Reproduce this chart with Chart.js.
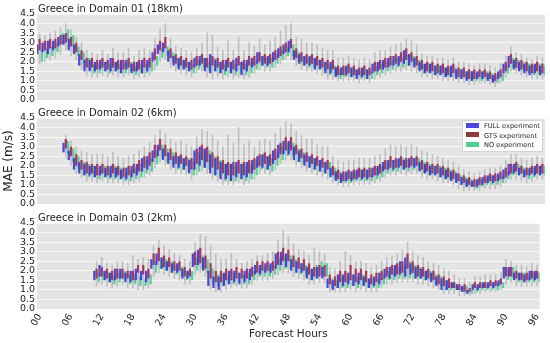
<!DOCTYPE html>
<html>
<head>
<meta charset="utf-8">
<script src="https://cdn.jsdelivr.net/npm/chart.js@4.4.1/dist/chart.umd.min.js"></script>
<style>
html, body { margin: 0; padding: 0; background: #fff; }
#wrap { position: relative; width: 550px; height: 343px; overflow: hidden; font-family: "DejaVu Sans", sans-serif; }
.panel { position: absolute; left: 0; width: 550px; }
#legend { position: absolute; left: 462px; top: 120px; width: 81px; height: 32px; background: rgba(255,255,255,0.95);
  border: 1px solid #d4d4d4; box-sizing: border-box; font-size: 6.6px; color: #222; padding: 1px 0 0 3px; }
#legend div { height: 9.5px; line-height: 9.5px; white-space: nowrap; }
#legend span { display: inline-block; width: 13px; height: 5px; margin-right: 5px; vertical-align: middle; position: relative; top: -1px; }
</style>
</head>
<body>
<div id="wrap">
  <div class="panel" style="top:0;height:108px"><canvas id="c1" width="550" height="108"></canvas></div>
  <div class="panel" style="top:104px;height:108px"><canvas id="c2" width="550" height="108"></canvas></div>
  <div class="panel" style="top:209px;height:134px"><canvas id="c3" width="550" height="134"></canvas></div>
  <div id="legend">
    <div><span style="background:#4848e0"></span>FULL experiment</div>
    <div><span style="background:#8a3c3c"></span>GTS experiment</div>
    <div><span style="background:#4fd08f"></span>NO experiment</div>
  </div>
</div>
<script>
const n = null;

// forecast hours 00..96
const HOURS = [
  0, 1, 2, 3, 4, 5, 6, 7, 8, 9, 10, 11,
  12, 13, 14, 15, 16, 17, 18, 19, 20, 21, 22, 23,
  24, 25, 26, 27, 28, 29, 30, 31, 32, 33, 34, 35,
  36, 37, 38, 39, 40, 41, 42, 43, 44, 45, 46, 47,
  48, 49, 50, 51, 52, 53, 54, 55, 56, 57, 58, 59,
  60, 61, 62, 63, 64, 65, 66, 67, 68, 69, 70, 71,
  72, 73, 74, 75, 76, 77, 78, 79, 80, 81, 82, 83,
  84, 85, 86, 87, 88, 89, 90, 91, 92, 93, 94, 95,
  96
];
const TICK_LABELS = ['00', '06', '12', '18', '24', '30', '36', '42', '48', '54', '60', '66', '72', '78', '84', '90', '96'];
const Y_TICKS = [0, 0.5, 1, 1.5, 2, 2.5, 3, 3.5, 4, 4.5];

const PANEL_TITLES = ['Greece in Domain 01 (18km)', 'Greece in Domain 02 (6km)', 'Greece in Domain 03 (2km)'];
const SERIES = ['FULL experiment', 'GTS experiment', 'NO experiment'];

// ---- Domain 01 (18km) : box bottoms / tops per hour
const d1FullLo = [
  2.4, 2.5, 2.4, 2.6, 2.8, 2.9, 2.6, 2.4, 1.8, 1.5, 1.5, 1.5,
  1.6, 1.5, 1.5, 1.5, 1.4, 1.6, 1.4, 1.5, 1.4, 1.5, 2.0, 2.4,
  2.5, 2.0, 1.8, 1.6, 1.6, 1.5, 1.7, 1.8, 1.5, 1.4, 1.5, 1.4,
  1.5, 1.4, 1.5, 1.3, 1.5, 1.7, 1.9, 1.8, 1.8, 2.0, 2.2, 2.4,
  2.5, 2.1, 1.9, 1.8, 1.8, 1.6, 1.6, 1.4, 1.4, 1.2, 1.3, 1.3,
  1.2, 1.1, 1.2, 1.1, 1.4, 1.5, 1.6, 1.7, 1.8, 1.8, 1.9, 1.8,
  1.7, 1.5, 1.4, 1.4, 1.3, 1.3, 1.2, 1.2, 1.1, 1.1, 1.0, 1.0,
  1.1, 1.1, 1.0, 0.9, 1.1, 1.4, 1.7, 1.6, 1.5, 1.4, 1.3, 1.4,
  1.3
];
const d1FullHi = [
  2.9, 3.0, 3.1, 3.1, 3.3, 3.4, 3.2, 2.9, 2.4, 2.1, 2.1, 2.0,
  2.1, 2.0, 2.2, 2.0, 2.1, 2.1, 1.9, 2.0, 2.1, 2.1, 2.5, 2.9,
  3.0, 2.6, 2.3, 2.2, 2.1, 2.0, 2.2, 2.3, 2.2, 2.4, 2.1, 2.0,
  2.1, 2.0, 2.2, 2.0, 2.1, 2.2, 2.5, 2.3, 2.3, 2.5, 2.7, 2.9,
  3.1, 2.6, 2.4, 2.3, 2.3, 2.2, 2.1, 2.0, 2.0, 1.7, 1.7, 1.8,
  1.7, 1.6, 1.7, 1.6, 1.9, 2.0, 2.1, 2.2, 2.3, 2.3, 2.6, 2.4,
  2.2, 2.0, 1.9, 1.9, 1.8, 1.8, 1.7, 1.8, 1.6, 1.6, 1.5, 1.5,
  1.5, 1.5, 1.4, 1.3, 1.5, 1.9, 2.3, 2.1, 2.0, 1.9, 1.8, 1.9,
  1.8
];
const d1GtsLo = [
  2.6, 2.6, 2.7, 2.7, 2.9, 3.0, 2.8, 2.5, 2.1, 1.7, 1.7, 1.6,
  1.7, 1.6, 1.7, 1.6, 1.6, 1.7, 1.5, 1.6, 1.7, 1.7, 2.1, 2.6,
  2.7, 2.2, 1.9, 1.8, 1.7, 1.6, 1.8, 1.9, 1.7, 1.8, 1.7, 1.6,
  1.7, 1.6, 1.8, 1.6, 1.8, 1.8, 2.0, 1.9, 1.9, 2.1, 2.3, 2.5,
  2.7, 2.2, 2.0, 1.9, 1.9, 1.8, 1.7, 1.6, 1.6, 1.3, 1.3, 1.4,
  1.3, 1.3, 1.3, 1.3, 1.5, 1.6, 1.7, 1.8, 1.9, 2.0, 2.1, 2.0,
  1.8, 1.6, 1.5, 1.5, 1.4, 1.4, 1.3, 1.4, 1.2, 1.2, 1.1, 1.1,
  1.2, 1.2, 1.1, 1.0, 1.2, 1.5, 1.9, 1.7, 1.6, 1.5, 1.4, 1.5,
  1.4
];
const d1GtsHi = [
  3.2, 3.1, 3.2, 3.2, 3.4, 3.5, 3.3, 3.0, 2.6, 2.2, 2.2, 2.1,
  2.2, 2.1, 2.2, 2.1, 2.1, 2.2, 2.0, 2.1, 2.2, 2.2, 2.7, 3.1,
  3.3, 2.7, 2.4, 2.3, 2.2, 2.1, 2.3, 2.4, 2.2, 2.3, 2.2, 2.1,
  2.2, 2.1, 2.3, 2.1, 2.3, 2.3, 2.5, 2.4, 2.4, 2.6, 2.8, 3.0,
  3.2, 2.7, 2.5, 2.4, 2.4, 2.3, 2.2, 2.1, 2.1, 1.8, 1.8, 1.9,
  1.8, 1.7, 1.8, 1.7, 2.0, 2.1, 2.2, 2.3, 2.4, 2.5, 2.7, 2.5,
  2.3, 2.1, 2.0, 2.0, 1.9, 1.9, 1.8, 1.9, 1.7, 1.7, 1.6, 1.6,
  1.6, 1.6, 1.5, 1.4, 1.6, 2.0, 2.4, 2.2, 2.1, 2.0, 1.9, 2.0,
  1.9
];
const d1NoLo = [
  2.0, 2.2, 2.3, 2.5, 2.9, 3.1, 2.8, 2.3, 1.9, 1.6, 1.4, 1.4,
  1.5, 1.4, 1.5, 1.4, 1.4, 1.5, 1.3, 1.4, 1.4, 1.5, 1.8, 2.2,
  2.3, 2.0, 1.7, 1.6, 1.5, 1.4, 1.6, 1.7, 1.5, 1.5, 1.4, 1.3,
  1.4, 1.3, 1.4, 1.3, 1.4, 1.6, 1.8, 1.7, 1.7, 1.9, 2.1, 2.3,
  2.3, 2.0, 1.8, 1.7, 1.7, 1.6, 1.5, 1.3, 1.3, 1.1, 1.2, 1.2,
  1.2, 1.1, 1.1, 1.1, 1.3, 1.4, 1.5, 1.6, 1.7, 1.7, 1.8, 1.8,
  1.6, 1.4, 1.4, 1.3, 1.3, 1.2, 1.2, 1.2, 1.1, 1.1, 1.0, 1.0,
  1.0, 1.1, 1.0, 0.9, 1.0, 1.4, 1.7, 1.6, 1.5, 1.4, 1.3, 1.3,
  1.3
];
const d1NoHi = [
  2.6, 2.7, 2.8, 3.0, 3.5, 3.7, 3.4, 2.8, 2.5, 2.2, 1.9, 1.9,
  2.0, 1.9, 2.0, 1.9, 2.0, 2.0, 1.8, 1.9, 1.9, 2.0, 2.3, 2.7,
  2.8, 2.5, 2.2, 2.1, 2.0, 1.9, 2.1, 2.2, 2.0, 2.2, 2.0, 1.9,
  2.0, 1.9, 2.0, 1.9, 2.0, 2.1, 2.3, 2.2, 2.2, 2.4, 2.6, 2.8,
  2.9, 2.5, 2.3, 2.2, 2.2, 2.1, 2.0, 1.9, 1.8, 1.6, 1.7, 1.7,
  1.6, 1.6, 1.6, 1.5, 1.8, 1.9, 2.0, 2.1, 2.2, 2.2, 2.4, 2.3,
  2.1, 1.9, 1.9, 1.8, 1.8, 1.7, 1.7, 1.7, 1.6, 1.5, 1.5, 1.4,
  1.5, 1.5, 1.4, 1.3, 1.4, 1.8, 2.2, 2.1, 2.0, 1.9, 1.8, 1.9,
  1.8
];
const d1WhiskLo = [
  1.9, 2.0, 2.1, 2.2, 2.4, 2.6, 2.3, 2.1, 1.6, 1.3, 1.2, 1.2,
  1.3, 1.2, 1.3, 1.2, 1.2, 1.3, 1.1, 1.2, 1.2, 1.3, 1.6, 2.0,
  2.1, 1.7, 1.5, 1.4, 1.3, 1.2, 1.4, 1.5, 1.2, 1.1, 1.2, 1.1,
  1.2, 1.1, 1.2, 1.1, 1.2, 1.4, 1.6, 1.5, 1.5, 1.7, 1.9, 2.1,
  2.1, 1.8, 1.6, 1.5, 1.5, 1.4, 1.3, 1.1, 1.1, 1.0, 1.0, 1.0,
  1.0, 0.9, 1.0, 0.9, 1.1, 1.2, 1.3, 1.4, 1.5, 1.5, 1.6, 1.5,
  1.4, 1.2, 1.2, 1.1, 1.1, 1.0, 1.0, 1.0, 0.9, 0.9, 0.8, 0.8,
  0.9, 0.9, 0.8, 0.7, 0.9, 1.2, 1.5, 1.4, 1.3, 1.2, 1.1, 1.1,
  1.1
];
const d1WhiskHi = [
  3.5, 3.4, 3.5, 3.6, 3.8, 4.0, 3.7, 3.3, 3.0, 2.6, 2.5, 2.4,
  2.6, 2.4, 2.7, 2.5, 2.5, 2.7, 2.3, 2.6, 2.7, 2.6, 3.2, 3.7,
  4.0, 3.2, 2.8, 2.7, 2.6, 2.5, 2.7, 3.0, 3.5, 3.4, 2.8, 2.6,
  3.1, 2.6, 3.3, 2.6, 3.0, 2.8, 3.2, 2.9, 3.1, 3.3, 3.6, 3.9,
  4.0, 3.3, 3.2, 3.0, 3.0, 2.9, 2.7, 2.6, 2.6, 2.2, 2.2, 2.3,
  2.2, 2.1, 2.2, 2.1, 2.5, 2.6, 2.6, 2.8, 2.9, 3.0, 3.2, 3.1,
  2.9, 2.4, 2.3, 2.3, 2.2, 2.2, 2.1, 2.2, 2.0, 2.0, 1.9, 1.8,
  1.9, 1.9, 1.8, 1.7, 1.9, 2.3, 2.8, 2.5, 2.4, 2.2, 2.1, 2.3,
  2.2
];

// ---- Domain 02 (6km)
const d2FullLo = [
  n, n, n, n, n, 2.7, 2.3, 1.8, 1.6, 1.5, 1.5, 1.4,
  1.5, 1.4, 1.4, 1.4, 1.3, 1.3, 1.4, 1.5, 1.7, 1.8, 2.2, 2.5,
  2.3, 2.1, 1.9, 1.9, 1.8, 1.6, 1.8, 2.0, 1.9, 1.6, 1.5, 1.3,
  1.3, 1.2, 1.4, 1.3, 1.4, 1.6, 1.9, 1.9, 1.8, 2.1, 2.4, 2.6,
  2.6, 2.3, 2.2, 2.0, 1.9, 1.8, 1.7, 1.6, 1.4, 1.2, 1.1, 1.2,
  1.2, 1.3, 1.3, 1.3, 1.4, 1.5, 1.7, 1.8, 1.8, 1.9, 1.8, 1.9,
  1.9, 1.7, 1.6, 1.5, 1.5, 1.4, 1.3, 1.2, 1.1, 1.0, 0.9, 0.9,
  0.9, 1.0, 1.1, 1.1, 1.2, 1.3, 1.5, 1.6, 1.5, 1.4, 1.5, 1.5,
  1.5
];
const d2FullHi = [
  n, n, n, n, n, 3.2, 2.8, 2.4, 2.2, 2.1, 2.0, 2.0,
  2.0, 1.9, 2.0, 1.9, 1.8, 1.9, 2.0, 2.1, 2.4, 2.5, 2.8, 3.1,
  2.9, 2.7, 2.5, 2.5, 2.4, 2.3, 2.8, 3.0, 2.9, 2.6, 2.4, 2.2,
  2.1, 2.1, 2.2, 2.1, 2.2, 2.3, 2.5, 2.6, 2.5, 2.8, 3.1, 3.3,
  3.3, 3.0, 2.8, 2.6, 2.5, 2.4, 2.3, 2.2, 1.9, 1.7, 1.6, 1.7,
  1.7, 1.8, 1.8, 1.8, 1.9, 2.0, 2.2, 2.3, 2.3, 2.4, 2.3, 2.4,
  2.4, 2.2, 2.1, 2.0, 2.0, 1.9, 1.8, 1.7, 1.6, 1.4, 1.3, 1.2,
  1.3, 1.4, 1.5, 1.5, 1.6, 1.8, 2.1, 2.1, 1.9, 1.8, 1.9, 2.0,
  2.0
];
const d2GtsLo = [
  n, n, n, n, n, 2.9, 2.5, 2.0, 1.8, 1.6, 1.6, 1.5,
  1.6, 1.5, 1.6, 1.5, 1.4, 1.5, 1.6, 1.7, 1.9, 2.0, 2.4, 2.8,
  2.5, 2.3, 2.1, 2.1, 2.0, 1.8, 2.1, 2.3, 2.2, 1.9, 1.8, 1.6,
  1.5, 1.5, 1.6, 1.5, 1.6, 1.8, 2.0, 2.1, 2.0, 2.3, 2.6, 2.8,
  2.8, 2.6, 2.4, 2.2, 2.1, 2.0, 1.9, 1.8, 1.5, 1.3, 1.2, 1.3,
  1.3, 1.4, 1.4, 1.4, 1.5, 1.6, 1.8, 1.9, 1.9, 2.0, 1.9, 2.0,
  2.0, 1.8, 1.7, 1.6, 1.6, 1.5, 1.4, 1.3, 1.2, 1.1, 1.0, 0.9,
  1.0, 1.1, 1.2, 1.2, 1.3, 1.4, 1.6, 1.7, 1.6, 1.5, 1.6, 1.6,
  1.6
];
const d2GtsHi = [
  n, n, n, n, n, 3.4, 3.0, 2.6, 2.3, 2.2, 2.1, 2.1,
  2.1, 2.0, 2.1, 2.0, 1.9, 2.0, 2.1, 2.3, 2.5, 2.7, 3.1, 3.4,
  3.1, 2.9, 2.7, 2.6, 2.5, 2.4, 2.9, 3.1, 3.0, 2.7, 2.5, 2.3,
  2.2, 2.2, 2.3, 2.2, 2.3, 2.4, 2.6, 2.7, 2.6, 2.9, 3.2, 3.5,
  3.5, 3.1, 2.9, 2.7, 2.6, 2.5, 2.4, 2.3, 2.0, 1.8, 1.7, 1.8,
  1.8, 1.9, 1.9, 1.9, 2.0, 2.1, 2.3, 2.5, 2.4, 2.5, 2.4, 2.5,
  2.5, 2.3, 2.2, 2.1, 2.1, 2.0, 1.9, 1.8, 1.6, 1.5, 1.4, 1.3,
  1.4, 1.5, 1.6, 1.6, 1.7, 1.9, 2.1, 2.2, 2.0, 1.9, 2.0, 2.1,
  2.1
];
const d2NoLo = [
  n, n, n, n, n, 2.6, 2.2, 1.8, 1.5, 1.4, 1.4, 1.3,
  1.4, 1.3, 1.3, 1.3, 1.2, 1.2, 1.3, 1.4, 1.6, 1.7, 2.1, 2.4,
  2.2, 2.0, 1.8, 1.8, 1.7, 1.5, 1.7, 1.9, 1.8, 1.5, 1.4, 1.2,
  1.2, 1.2, 1.3, 1.2, 1.3, 1.5, 1.8, 1.8, 1.7, 2.0, 2.3, 2.5,
  2.5, 2.2, 2.1, 1.9, 1.8, 1.7, 1.6, 1.5, 1.3, 1.1, 1.1, 1.1,
  1.2, 1.2, 1.2, 1.2, 1.3, 1.4, 1.6, 1.7, 1.7, 1.8, 1.7, 1.8,
  1.8, 1.6, 1.5, 1.5, 1.4, 1.3, 1.3, 1.2, 1.0, 0.9, 0.9, 0.8,
  0.9, 1.0, 1.0, 1.0, 1.1, 1.3, 1.5, 1.5, 1.4, 1.3, 1.4, 1.5,
  1.5
];
const d2NoHi = [
  n, n, n, n, n, 3.3, 2.9, 2.5, 2.2, 2.1, 2.0, 1.9,
  2.0, 1.9, 2.0, 1.9, 1.8, 1.8, 1.9, 2.1, 2.3, 2.4, 2.8, 3.1,
  2.9, 2.7, 2.5, 2.4, 2.4, 2.2, 2.7, 2.9, 2.8, 2.5, 2.3, 2.1,
  2.1, 2.0, 2.1, 2.0, 2.1, 2.3, 2.5, 2.5, 2.4, 2.7, 3.0, 3.2,
  3.2, 2.9, 2.7, 2.5, 2.4, 2.3, 2.2, 2.2, 1.9, 1.7, 1.6, 1.7,
  1.7, 1.8, 1.8, 1.8, 1.9, 2.0, 2.2, 2.3, 2.3, 2.4, 2.3, 2.4,
  2.4, 2.2, 2.1, 2.0, 2.0, 1.9, 1.8, 1.7, 1.5, 1.4, 1.3, 1.2,
  1.3, 1.4, 1.5, 1.5, 1.5, 1.7, 2.0, 2.1, 1.9, 1.8, 1.9, 2.0,
  2.0
];
const d2WhiskLo = [
  n, n, n, n, n, 2.4, 2.0, 1.6, 1.4, 1.2, 1.2, 1.1,
  1.2, 1.1, 1.1, 1.1, 1.0, 1.0, 1.1, 1.2, 1.4, 1.5, 1.9, 2.2,
  2.0, 1.8, 1.6, 1.6, 1.5, 1.3, 1.5, 1.7, 1.6, 1.3, 1.2, 1.0,
  1.0, 1.0, 1.1, 1.0, 1.1, 1.3, 1.6, 1.6, 1.5, 1.8, 2.1, 2.3,
  2.3, 2.0, 1.9, 1.7, 1.6, 1.5, 1.4, 1.3, 1.1, 1.0, 0.9, 0.9,
  1.0, 1.0, 1.0, 1.0, 1.1, 1.2, 1.4, 1.5, 1.5, 1.6, 1.5, 1.6,
  1.6, 1.4, 1.3, 1.3, 1.2, 1.1, 1.1, 1.0, 0.8, 0.7, 0.7, 0.7,
  0.7, 0.8, 0.8, 0.8, 0.9, 1.1, 1.3, 1.3, 1.2, 1.1, 1.2, 1.3,
  1.3
];
const d2WhiskHi = [
  n, n, n, n, n, 3.6, 3.3, 3.0, 2.8, 2.7, 2.6, 2.6,
  2.6, 2.5, 2.7, 2.5, 2.4, 2.5, 2.6, 2.8, 3.0, 3.2, 3.6, 3.9,
  3.7, 3.4, 3.2, 3.3, 3.1, 3.0, 3.5, 3.9, 3.8, 3.6, 3.3, 3.0,
  3.6, 3.2, 4.0, 3.1, 3.3, 3.0, 3.3, 3.4, 3.3, 3.7, 4.0, 4.3,
  4.2, 3.8, 3.6, 3.4, 3.4, 3.1, 3.0, 3.0, 2.5, 2.3, 2.2, 2.3,
  2.3, 2.4, 2.4, 2.4, 2.5, 2.6, 2.9, 3.1, 3.0, 3.1, 3.0, 3.1,
  3.0, 2.8, 2.7, 2.6, 2.5, 2.4, 2.3, 2.2, 2.0, 1.8, 1.7, 1.6,
  1.7, 1.8, 1.9, 1.9, 2.0, 2.3, 2.6, 2.6, 2.4, 2.3, 2.4, 2.5,
  2.4
];

// ---- Domain 03 (2km)
const d3FullLo = [
  n, n, n, n, n, n, n, n, n, n, n, 1.5,
  1.7, 1.5, 1.4, 1.5, 1.6, 1.4, 1.4, 1.5, 1.5, 1.4, 2.1, 2.3,
  2.1, 2.0, 1.9, 1.9, 1.6, 1.6, 2.2, 2.3, 2.0, 1.2, 1.1, 1.0,
  1.2, 1.3, 1.4, 1.3, 1.4, 1.5, 1.8, 1.8, 1.9, 1.9, 2.1, 2.3,
  2.2, 2.0, 1.9, 1.9, 1.6, 1.5, 1.6, 1.6, 1.1, 1.0, 1.1, 1.2,
  1.3, 1.2, 1.3, 1.2, 1.1, 1.2, 1.3, 1.6, 1.6, 1.7, 1.8, 1.7,
  1.8, 1.6, 1.6, 1.5, 1.4, 1.2, 1.0, 1.0, 1.1, 1.0, 0.9, 0.8,
  1.0, 1.0, 1.1, 1.1, 1.1, 1.2, 1.6, 1.7, 1.5, 1.5, 1.4, 1.5,
  1.5
];
const d3FullHi = [
  n, n, n, n, n, n, n, n, n, n, n, 2.0,
  2.3, 2.0, 1.9, 2.1, 2.1, 1.9, 2.0, 2.1, 2.0, 2.0, 2.6, 2.9,
  2.7, 2.5, 2.4, 2.4, 2.1, 2.0, 2.9, 3.1, 2.7, 2.0, 1.7, 1.7,
  1.9, 2.0, 2.0, 1.9, 2.0, 2.1, 2.3, 2.3, 2.4, 2.4, 2.9, 3.0,
  2.9, 2.6, 2.5, 2.4, 2.2, 2.1, 2.2, 2.2, 1.6, 1.5, 1.8, 1.8,
  1.9, 1.8, 1.9, 1.7, 1.6, 1.7, 1.9, 2.1, 2.2, 2.3, 2.5, 2.7,
  2.4, 2.2, 2.1, 2.0, 1.9, 1.7, 1.6, 1.5, 1.4, 1.3, 1.2, 1.0,
  1.3, 1.3, 1.4, 1.4, 1.4, 1.5, 2.2, 2.2, 1.9, 1.9, 1.8, 2.0,
  2.0
];
const d3GtsLo = [
  n, n, n, n, n, n, n, n, n, n, n, 1.6,
  1.7, 1.6, 1.5, 1.6, 1.6, 1.6, 1.5, 1.9, 1.8, 1.6, 2.3, 2.5,
  2.2, 2.2, 2.0, 2.0, 1.7, 1.7, 2.3, 2.4, 2.1, 1.6, 1.4, 1.4,
  1.5, 1.5, 1.6, 1.6, 1.6, 1.7, 1.9, 2.0, 2.0, 2.0, 2.3, 2.5,
  2.5, 2.2, 2.1, 2.0, 1.8, 1.7, 1.7, 1.7, 1.3, 1.2, 1.4, 1.4,
  1.5, 1.4, 1.5, 1.4, 1.3, 1.4, 1.5, 1.7, 1.8, 1.8, 1.9, 2.1,
  1.9, 1.7, 1.7, 1.6, 1.5, 1.3, 1.2, 1.1, 1.1, 1.0, 0.9, 0.9,
  1.1, 1.1, 1.1, 1.2, 1.2, 1.3, 1.7, 1.7, 1.6, 1.5, 1.5, 1.6,
  1.6
];
const d3GtsHi = [
  n, n, n, n, n, n, n, n, n, n, n, 2.1,
  2.2, 2.1, 2.0, 2.1, 2.1, 2.0, 2.0, 2.3, 2.3, 2.1, 2.9, 3.2,
  2.8, 2.7, 2.5, 2.5, 2.2, 2.1, 3.0, 3.2, 2.8, 2.4, 2.0, 2.0,
  2.1, 2.1, 2.2, 2.1, 2.1, 2.2, 2.5, 2.5, 2.5, 2.5, 3.0, 3.2,
  3.1, 2.8, 2.7, 2.6, 2.4, 2.2, 2.3, 2.3, 1.8, 1.7, 2.0, 2.0,
  2.3, 2.1, 2.1, 2.0, 1.8, 1.9, 2.0, 2.2, 2.3, 2.4, 2.5, 2.9,
  2.5, 2.3, 2.2, 2.1, 2.0, 1.8, 1.7, 1.6, 1.4, 1.3, 1.3, 1.1,
  1.4, 1.4, 1.4, 1.5, 1.5, 1.6, 2.2, 2.2, 2.0, 1.9, 1.9, 2.0,
  2.0
];
const d3NoLo = [
  n, n, n, n, n, n, n, n, n, n, n, 1.4,
  1.5, 1.4, 1.3, 1.4, 1.5, 1.3, 1.3, 1.2, 1.2, 1.3, 1.9, 2.1,
  2.0, 1.9, 1.8, 1.7, 1.5, 1.5, 2.0, 2.1, 1.9, 1.3, 1.2, 1.2,
  1.3, 1.3, 1.4, 1.3, 1.3, 1.5, 1.7, 1.7, 1.7, 1.8, 2.0, 2.1,
  2.1, 1.9, 1.8, 1.7, 1.5, 1.6, 1.8, 1.7, 1.1, 1.1, 1.1, 1.1,
  1.2, 1.1, 1.2, 1.1, 1.1, 1.1, 1.3, 1.5, 1.5, 1.6, 1.6, 1.6,
  1.6, 1.6, 1.5, 1.5, 1.3, 1.2, 1.0, 1.0, 1.0, 0.9, 0.8, 0.8,
  0.9, 1.0, 1.0, 1.0, 1.0, 1.1, 1.5, 1.6, 1.4, 1.4, 1.4, 1.4,
  1.4
];
const d3NoHi = [
  n, n, n, n, n, n, n, n, n, n, n, 1.9,
  2.0, 1.9, 1.8, 1.9, 2.0, 1.8, 1.8, 1.7, 1.6, 1.8, 2.5, 2.7,
  2.6, 2.5, 2.3, 2.2, 2.0, 2.0, 2.7, 2.8, 2.6, 2.1, 1.8, 1.8,
  1.8, 1.9, 1.9, 1.8, 1.9, 2.0, 2.2, 2.2, 2.3, 2.3, 2.7, 2.8,
  2.8, 2.6, 2.4, 2.3, 2.1, 2.3, 2.5, 2.4, 1.6, 1.5, 1.7, 1.7,
  1.8, 1.7, 1.8, 1.6, 1.6, 1.6, 1.8, 2.0, 2.1, 2.2, 2.3, 2.5,
  2.3, 2.2, 2.0, 2.0, 1.8, 1.7, 1.5, 1.4, 1.3, 1.2, 1.2, 1.0,
  1.2, 1.3, 1.3, 1.4, 1.4, 1.4, 2.1, 2.2, 1.9, 1.9, 1.8, 1.9,
  1.9
];
const d3WhiskLo = [
  n, n, n, n, n, n, n, n, n, n, n, 1.2,
  1.3, 1.2, 1.1, 1.2, 1.3, 1.1, 1.1, 1.0, 1.0, 1.1, 1.7, 1.9,
  1.8, 1.7, 1.6, 1.5, 1.3, 1.3, 1.8, 1.9, 1.7, 1.0, 0.9, 0.9,
  1.0, 1.1, 1.2, 1.1, 1.1, 1.3, 1.5, 1.5, 1.5, 1.6, 1.8, 1.9,
  1.9, 1.7, 1.6, 1.5, 1.3, 1.3, 1.4, 1.4, 0.9, 0.9, 0.9, 0.9,
  1.0, 0.9, 1.0, 0.9, 0.9, 0.9, 1.1, 1.3, 1.3, 1.4, 1.4, 1.4,
  1.4, 1.3, 1.3, 1.2, 1.1, 1.0, 0.8, 0.8, 0.8, 0.7, 0.7, 0.7,
  0.8, 0.8, 0.9, 0.9, 0.9, 1.0, 1.3, 1.4, 1.2, 1.2, 1.2, 1.2,
  1.2
];
const d3WhiskHi = [
  n, n, n, n, n, n, n, n, n, n, n, 2.5,
  2.7, 2.4, 2.3, 2.5, 2.5, 2.4, 2.8, 2.6, 2.7, 2.6, 3.3, 3.6,
  3.3, 3.1, 2.9, 2.8, 2.6, 2.5, 3.5, 3.9, 3.8, 3.3, 2.9, 2.6,
  2.6, 2.9, 2.6, 2.4, 2.5, 2.6, 2.8, 2.8, 2.9, 3.0, 3.6, 4.1,
  3.8, 3.4, 3.1, 3.0, 2.8, 3.2, 3.0, 2.9, 2.2, 2.1, 2.5, 3.0,
  2.8, 2.5, 2.5, 2.4, 2.2, 2.3, 2.5, 2.7, 2.8, 2.9, 3.1, 3.5,
  3.0, 2.8, 2.7, 2.5, 2.4, 2.3, 2.1, 2.0, 1.8, 1.6, 1.6, 1.4,
  1.7, 1.7, 1.8, 1.8, 1.8, 1.9, 2.6, 2.5, 2.3, 2.3, 2.2, 2.4,
  2.3
];

const COLORS = ['rgba(52, 48, 222, 0.88)', 'rgba(160, 32, 66, 0.85)', 'rgba(62, 204, 140, 0.85)'];
const WHISKER_COLOR = 'rgba(165, 165, 165, 0.6)';

function ranges(lo, hi) {
    return lo.map((v, i) => (v === null || hi[i] === null ? null : [v, hi[i]]));
}

const plotBg = {
    id: 'plotBg',
    beforeDraw(chart) {
        const { ctx, chartArea } = chart;
        ctx.save();
        ctx.fillStyle = '#e5e5e5';
        ctx.fillRect(chartArea.left, chartArea.top, chartArea.right - chartArea.left, chartArea.bottom - chartArea.top);
        ctx.restore();
    }
};

const panelTitle = {
    id: 'panelTitle',
    afterDraw(chart, args, opts) {
        const { ctx, chartArea } = chart;
        ctx.save();
        ctx.font = '10px "DejaVu Sans"';
        ctx.fillStyle = '#222';
        ctx.textBaseline = 'alphabetic';
        ctx.fillText(opts.text, chartArea.left + 1, chartArea.top - 2);
        ctx.restore();
    }
};

function makePanel(id, idx, sets, showX, yTitle) {
    const datasets = [
        {
            label: 'whiskers',
            data: ranges(sets.wLo, sets.wHi),
            backgroundColor: WHISKER_COLOR,
            grouped: false,
            barThickness: 1,
            order: 10,
        },
    ];
    sets.boxes.forEach((b, i) => {
        datasets.push({
            label: SERIES[i],
            data: ranges(b[0], b[1]),
            backgroundColor: COLORS[i],
            borderWidth: 0,
            barPercentage: 1.0,
            categoryPercentage: 1.3,
            order: 0,
        });
    });

    const xScale = {
        display: showX,
        offset: true,
        grid: { display: false, drawTicks: false },
        border: { display: false },
        ticks: {
            autoSkip: false,
            maxRotation: 60,
            minRotation: 60,
            padding: 3,
            color: '#222',
            font: { family: 'DejaVu Sans', size: 9.5 },
            callback: (v, i) => (i % 6 === 0 ? TICK_LABELS[i / 6] : ''),
        },
        title: {
            display: showX,
            text: 'Forecast Hours',
            color: '#222',
            font: { family: 'DejaVu Sans', size: 10.5 },
            padding: { top: 0, bottom: 2 },
        },
    };
    if (showX) xScale.afterFit = (scale) => { scale.height = 34; };

    return new Chart(document.getElementById(id), {
        type: 'bar',
        data: { labels: HOURS, datasets },
        plugins: [plotBg, panelTitle],
        options: {
            responsive: false,
            animation: false,
            events: [],
            layout: { padding: { top: 14, right: 5, bottom: showX ? 0 : 8, left: 0 } },
            plugins: {
                legend: { display: false },
                tooltip: { enabled: false },
                panelTitle: { text: PANEL_TITLES[idx] },
            },
            scales: {
                x: xScale,
                y: {
                    min: 0,
                    max: 4.5,
                    afterFit: (scale) => { scale.width = 37; },
                    afterBuildTicks: (scale) => { scale.ticks = Y_TICKS.map((v) => ({ value: v })); },
                    grid: { color: 'rgba(255,255,255,0.75)', lineWidth: 1, drawTicks: false },
                    border: { display: false },
                    ticks: {
                        autoSkip: false,
                        padding: 2,
                        color: '#222',
                        font: { family: 'DejaVu Sans', size: 9.5 },
                        callback: (v) => Number(v).toFixed(1),
                    },
                    title: {
                        display: !!yTitle,
                        text: yTitle || '',
                        color: '#222',
                        font: { family: 'DejaVu Sans', size: 12 },
                        padding: { top: 2, bottom: 0 },
                    },
                },
            },
        },
    });
}

makePanel('c1', 0, {
    wLo: d1WhiskLo, wHi: d1WhiskHi,
    boxes: [[d1FullLo, d1FullHi], [d1GtsLo, d1GtsHi], [d1NoLo, d1NoHi]],
}, false, '');
makePanel('c2', 1, {
    wLo: d2WhiskLo, wHi: d2WhiskHi,
    boxes: [[d2FullLo, d2FullHi], [d2GtsLo, d2GtsHi], [d2NoLo, d2NoHi]],
}, false, 'MAE (m/s)');
makePanel('c3', 2, {
    wLo: d3WhiskLo, wHi: d3WhiskHi,
    boxes: [[d3FullLo, d3FullHi], [d3GtsLo, d3GtsHi], [d3NoLo, d3NoHi]],
}, true, '');
</script>
</body>
</html>
